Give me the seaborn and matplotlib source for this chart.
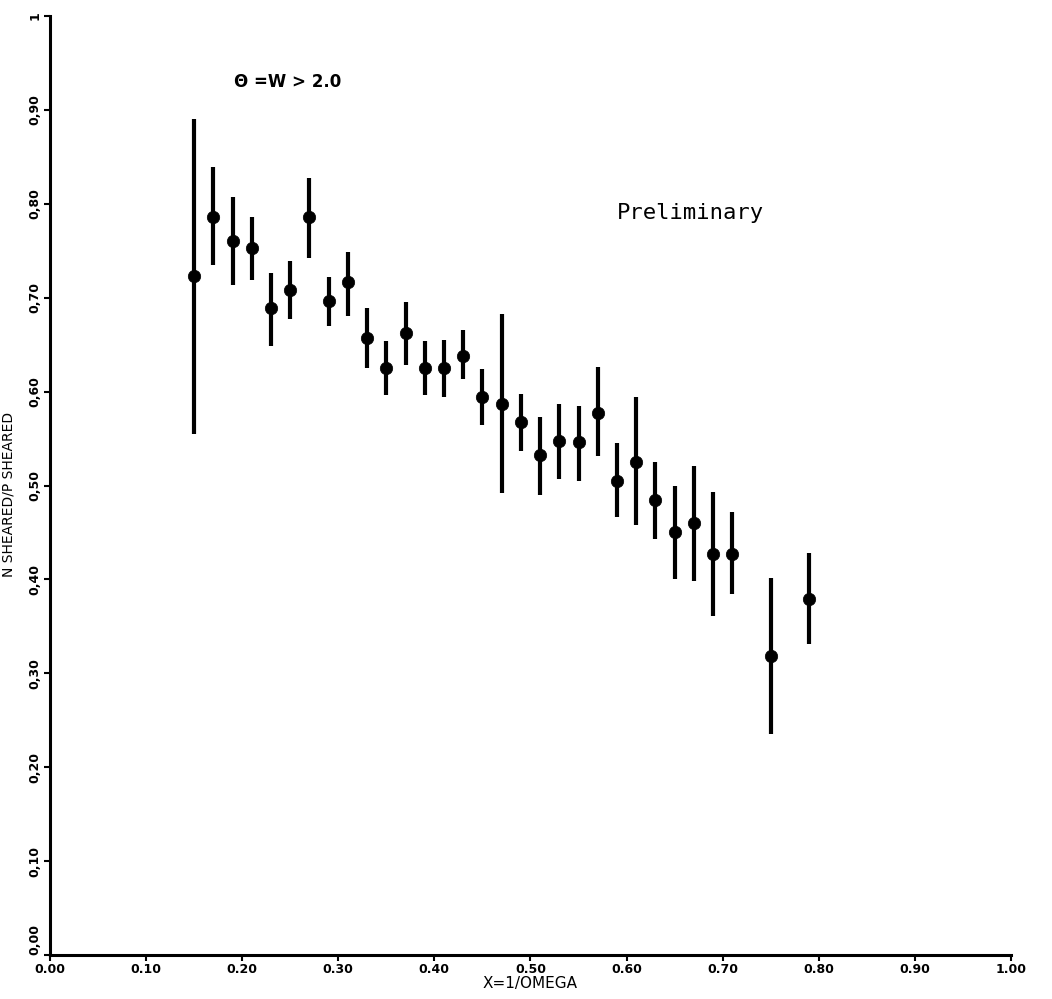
import matplotlib
matplotlib.use("Agg")
import matplotlib.pyplot as plt
import seaborn as sns
import pandas as pd

# Ratio of N-sheared to P-sheared events versus x = 1/omega, with error bands
x_vals = [0.15, 0.17, 0.19, 0.21, 0.23, 0.25, 0.27, 0.29, 0.31, 0.33, 0.35,
          0.37, 0.39, 0.41, 0.43, 0.45, 0.47, 0.49, 0.51, 0.53, 0.55, 0.57,
          0.59, 0.61, 0.63, 0.65, 0.67, 0.69, 0.71, 0.75, 0.79]
ratio = [0.723, 0.786, 0.760, 0.753, 0.689, 0.708, 0.786, 0.697, 0.717, 0.657, 0.625,
         0.662, 0.625, 0.625, 0.638, 0.594, 0.587, 0.568, 0.532, 0.547, 0.546, 0.577,
         0.505, 0.525, 0.485, 0.450, 0.460, 0.427, 0.427, 0.318, 0.379]
ratio_lo = [0.555, 0.735, 0.713, 0.719, 0.649, 0.677, 0.742, 0.670, 0.680, 0.625, 0.596,
            0.628, 0.596, 0.594, 0.613, 0.564, 0.492, 0.537, 0.490, 0.507, 0.505, 0.531,
            0.466, 0.458, 0.443, 0.400, 0.398, 0.361, 0.385, 0.235, 0.331]
ratio_hi = [0.890, 0.839, 0.807, 0.786, 0.726, 0.739, 0.828, 0.722, 0.749, 0.689, 0.654,
            0.695, 0.654, 0.655, 0.666, 0.624, 0.683, 0.597, 0.573, 0.587, 0.585, 0.626,
            0.545, 0.594, 0.525, 0.500, 0.521, 0.493, 0.472, 0.402, 0.428]

x_ticks = [0.0, 0.1, 0.2, 0.3, 0.4, 0.5, 0.6, 0.7, 0.8, 0.9, 1.0]
x_tick_labels = ["0.00", "0.10", "0.20", "0.30", "0.40", "0.50",
                 "0.60", "0.70", "0.80", "0.90", "1.00"]
y_ticks = [0.0, 0.1, 0.2, 0.3, 0.4, 0.5, 0.6, 0.7, 0.8, 0.9, 1.0]
y_tick_labels = ["0,00", "0,10", "0,20", "0,30", "0,40", "0,50",
                 "0,60", "0,70", "0,80", "0,90", "1"]

df = pd.DataFrame({"x": x_vals, "ratio": ratio, "lo": ratio_lo, "hi": ratio_hi})

sns.set_theme(style="ticks")
plt.rcParams["font.family"] = ["DejaVu Sans"]
plt.rcParams["text.color"] = "black"
plt.rcParams["axes.labelcolor"] = "black"
plt.rcParams["xtick.color"] = "black"
plt.rcParams["ytick.color"] = "black"

fig = plt.figure(figsize=(10.52, 9.99), dpi=100)
ax = fig.add_axes([0.0475, 0.044, 0.9135, 0.940])

ax.vlines(df["x"], df["lo"], df["hi"], color="black", linewidth=3.0, zorder=2)
sns.scatterplot(data=df, x="x", y="ratio", ax=ax, color="black", s=80,
                edgecolor="black", linewidth=0.5, zorder=3, legend=False)

ax.set_xlim(0, 1.0)
ax.set_ylim(0, 1.0)
sns.despine(ax=ax)
for side in ("left", "bottom"):
    ax.spines[side].set_linewidth(2.2)
    ax.spines[side].set_color("black")

ax.set_xticks(x_ticks)
ax.set_xticklabels(x_tick_labels, fontsize=9, fontweight="bold")
ax.set_yticks(y_ticks)
ax.set_yticklabels(y_tick_labels, fontsize=9, fontweight="bold",
                   rotation=90, va="center")
# the origin label sits just above the corner so it clears the x labels
ax.get_yticklabels()[0].set_va("bottom")
ax.tick_params(axis="both", direction="out", length=4, width=1.5,
               color="black", pad=2)

ax.set_xlabel("X=1/OMEGA", fontsize=11, labelpad=0)
ax.set_ylabel("N SHEARED/P SHEARED", fontsize=10)
ax.yaxis.set_label_coords(-0.036, 0.49)

ax.text(0.192, 0.93, "\u0398 =W > 2.0", fontsize=12, fontweight="bold",
        ha="left", va="center", transform=ax.transData)
ax.text(0.59, 0.79, "Preliminary", fontsize=16, family="DejaVu Sans Mono",
        ha="left", va="center", transform=ax.transData)

fig.savefig("out.png", dpi=100, facecolor="white")
